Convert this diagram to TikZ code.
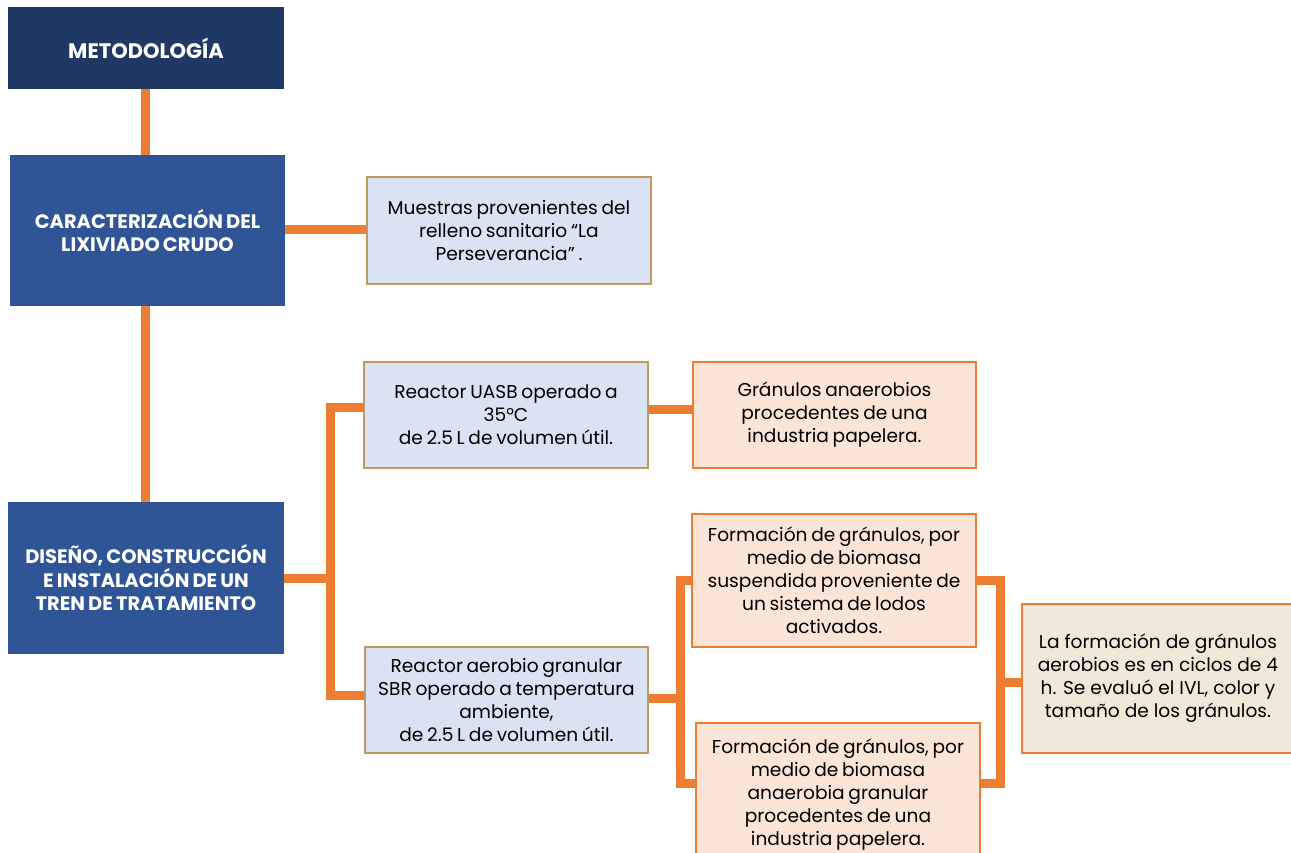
\documentclass[tikz,border=0pt]{standalone}
\usepackage{fontspec}
\setmainfont{Poppins}
\newfontfamily\condfont[WordSpace=0.55]{Poppins}
\newfontfamily\headfont[WordSpace=0.75]{Poppins}
\definecolor{navy}{HTML}{203864}
\definecolor{midblue}{HTML}{2F5597}
\definecolor{lblue}{HTML}{DAE3F3}
\definecolor{tan}{HTML}{BF9A60}
\definecolor{peach}{HTML}{FBE5D6}
\definecolor{beige}{HTML}{F2E8DA}
\definecolor{orng}{HTML}{ED7D31}
\tikzset{
  head/.style={fill=#1, draw=none, text=white, align=center, inner sep=0pt,
    font=\headfont\fontsize{19.5}{23.5}\selectfont\bfseries},
  bluebox/.style={fill=lblue, draw=tan, line width=2pt, align=center, inner sep=0pt,
    font=\condfont\fontsize{18.6}{23}\selectfont},
  peachbox/.style={fill=peach, draw=orng, line width=2pt, align=center, inner sep=0pt,
    font=\condfont\fontsize{18.6}{23}\selectfont},
  conn/.style={draw=orng, line width=9pt, line join=miter}
}
\begin{document}
\begin{tikzpicture}[x=1pt,y=-1pt]
\useasboundingbox (0,0) rectangle (1291,852);
% nodes
\node[head=navy, minimum width=276pt, minimum height=82pt, font=\headfont\fontsize{21}{23.5}\selectfont\bfseries] (met) at (146,48) {METODOLOGÍA};
\node[head=midblue, minimum width=275pt, minimum height=151pt] (car) at (147.5,230.5) {CARACTERIZACIÓN DEL\\LIXIVIADO CRUDO};
\node[head=midblue, minimum width=276pt, minimum height=152pt] (dis) at (146,578) {DISEÑO, CONSTRUCCIÓN\\E INSTALACIÓN DE UN\\TREN DE TRATAMIENTO};
\node[bluebox, minimum width=284pt, minimum height=107pt] (mue) at (509,230.5) {Muestras provenientes del\\relleno sanitario “La\\Perseverancia” .};
\node[bluebox, minimum width=284pt, minimum height=106pt] (uasb) at (506,415) {Reactor UASB operado a\\35°C\\ de 2.5 L de volumen útil.};
\node[peachbox, minimum width=283pt, minimum height=106pt] (gra) at (834.5,415) {Gránulos anaerobios\\procedentes de una\\industria papelera.};
\node[bluebox, minimum width=283pt, minimum height=106pt] (sbr) at (506.5,700) {Reactor aerobio granular\\SBR operado a temperatura\\ambiente,\\ de 2.5 L de volumen útil.};
\node[peachbox, minimum width=284pt, minimum height=133pt] (f1) at (834,580.5) {Formación de gránulos, por\\medio de biomasa\\suspendida proveniente de\\un sistema de lodos\\activados.};
\node[peachbox, minimum width=284pt, minimum height=138pt, text depth=0pt] (f2) at (838,792) {Formación de gránulos, por\\medio de biomasa\\anaerobia granular\\procedentes de una\\industria papelera.};
\node[peachbox, fill=beige, minimum width=272pt, minimum height=149pt, font=\fontsize{18.6}{23}\selectfont] (lf) at (1158,678.5) {La formación de gránulos\\aerobios es en ciclos de 4\\h. Se evaluó el IVL, color y\\tamaño de los gránulos.};
% connectors
\coordinate (tA) at (330,578);
\coordinate (tB) at (680,698);
\coordinate (tC) at (1000,682);
\draw[conn] (met.south -| 145,0) -- (car.north -| 145,0);
\draw[conn] (car.south -| 145,0) -- (dis.north -| 145,0);
\draw[conn] (car.east |- 0,229) -- (mue.west |- 0,229);
\draw[conn] (dis.east) -- (tA);
\draw[conn] ([yshift=8pt]uasb.west) -| (tA) |- ([yshift=5pt]sbr.west);
\draw[conn] ([yshift=6pt]uasb.east) -- ([yshift=6pt]gra.west);
\draw[conn] (sbr.east |- tB) -- (tB);
\draw[conn] (f1.west) -| (tB) |- ([yshift=9pt]f2.west);
\draw[conn] (f1.east) -| (tC) |- ([yshift=9pt]f2.east);
\draw[conn] (tC) -- (lf.west |- tC);
\end{tikzpicture}
\end{document}
